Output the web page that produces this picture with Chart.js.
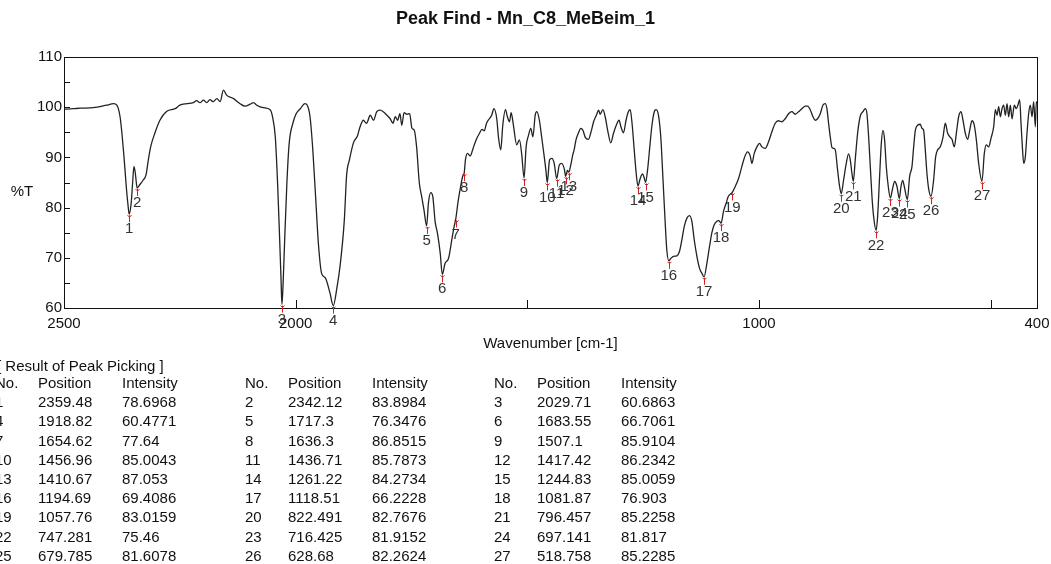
<!DOCTYPE html>
<html>
<head>
<meta charset="utf-8">
<title>Peak Find - Mn_C8_MeBeim_1</title>
<script src="https://cdn.jsdelivr.net/npm/chart.js@4.4.1/dist/chart.umd.min.js"></script>
<style>
  html, body { margin: 0; padding: 0; background: #fff; overflow: hidden; }
  #wrap { position: relative; width: 1051px; height: 564px; }
  #spectrum { position: absolute; left: 0; top: 0; }
  #peak-table { position: absolute; left: 0; top: 0; width: 1051px; height: 564px;
    font: 15px "Liberation Sans", Arial, sans-serif; color: #111; }
  #peak-table span { position: absolute; white-space: nowrap; line-height: 18px; }
</style>
</head>
<body>
<div id="wrap">
  <canvas id="spectrum" width="1051" height="360"></canvas>
  <div id="peak-table"></div>
</div>
<script>
// IR spectrum, wavenumber [cm-1] vs %T
const wavenumber = [
  2500, 2480, 2465, 2437, 2408, 2393, 2386, 2379, 2375, 2370,
  2365, 2361.5, 2359.48, 2355, 2352, 2349, 2346, 2343.5, 2342.12, 2337,
  2329, 2323, 2318, 2313, 2304, 2293, 2278, 2260, 2250, 2235,
  2221, 2214, 2206, 2199, 2192, 2185, 2178, 2170, 2163, 2156,
  2149, 2134, 2120, 2109, 2098, 2091, 2084, 2070, 2055, 2050,
  2044, 2039, 2035, 2031.5, 2029.71, 2027.5, 2025, 2019, 2014, 2006,
  1999, 1990, 1980, 1975, 1969, 1963, 1957, 1951, 1944, 1936,
  1926, 1918.82, 1911, 1904, 1895, 1890, 1884, 1875, 1867, 1861,
  1854, 1847, 1839, 1832, 1825, 1818, 1811, 1803, 1796, 1790,
  1785, 1780, 1775, 1771, 1766, 1760, 1754, 1749, 1744, 1739,
  1733, 1728, 1723, 1717.3, 1713.5, 1708.4, 1704, 1699, 1694, 1688,
  1683.55, 1677.5, 1670, 1663, 1658, 1654.62, 1649, 1644, 1639.3, 1636.3,
  1633.6, 1629, 1623.5, 1616, 1609, 1603.3, 1598, 1593, 1588, 1582,
  1577, 1572, 1566, 1562, 1557.3, 1553, 1547.2, 1543, 1538.5, 1535,
  1530, 1523, 1517, 1512, 1507.1, 1502.6, 1497.5, 1492.5, 1488, 1483,
  1479.5, 1474, 1469, 1464, 1460, 1456.96, 1452, 1447, 1442, 1436.71,
  1431, 1426, 1420, 1417.42, 1413.5, 1410.67, 1406, 1402, 1399, 1395,
  1390, 1384.5, 1380, 1375, 1368, 1363, 1357, 1351, 1346, 1343,
  1337, 1332, 1326, 1320, 1314, 1308, 1302, 1298, 1292.4, 1287,
  1282, 1278, 1274, 1269.3, 1265, 1261.22, 1256.4, 1251.4, 1248, 1244.83,
  1240.5, 1235, 1230.5, 1226, 1222, 1217, 1212, 1207.5, 1202.4, 1199,
  1194.69, 1190, 1184.4, 1177.2, 1171.5, 1166.4, 1161.4, 1155.6, 1149.9, 1144.8,
  1139.8, 1134, 1128.3, 1123.2, 1118.51, 1112.5, 1106.7, 1101.7, 1096.7, 1091,
  1086.6, 1081.87, 1076.5, 1070.8, 1066.4, 1057.76, 1051.3, 1044.1, 1037, 1032,
  1024.7, 1019, 1015.3, 1010.3, 1004.5, 998.8, 993.8, 986.6, 979.4, 972.2,
  965, 957.8, 950.6, 943.4, 936.2, 929, 921.8, 914.6, 907.4, 900.2,
  895.2, 889.4, 883.6, 878.6, 873.6, 867.8, 862.1, 857, 853.4, 849.8,
  846.2, 842.6, 839, 835.4, 830.4, 826, 822.491, 817.4, 811.7, 806.6,
  803, 799.4, 796.457, 792.3, 787.2, 781.5, 775.6, 770.6, 767, 763.4,
  759.8, 756.2, 752.6, 747.281, 744, 739.7, 736, 732.5, 728.9, 725.3,
  721, 716.425, 712.3, 707.3, 702.2, 697.141, 693.6, 690, 686.4, 679.785,
  674.9, 669.8, 666.2, 662.6, 657.6, 651.9, 648.3, 644.7, 641.1, 637.5,
  633.9, 628.68, 623.1, 618.8, 614.4, 608.7, 602.9, 597.9, 592.8, 587.1,
  583.5, 578.4, 574.1, 569.1, 564, 559.7, 554.7, 549.6, 545.3, 540.3,
  535.3, 530.9, 525.9, 518.758, 513.7, 509.4, 504.3, 499.3, 493.5, 489.9,
  486.3, 482.7, 479.1, 475.5, 471.9, 468.3, 464.7, 461.1, 457.5, 453.9,
  448.9, 444.6, 440.3, 437.4, 434.5, 431.6, 428.7, 425.2, 421.6, 418,
  414.4, 410.7, 407.2, 403.6, 401.4, 400
];
const transmittance = [
  99.6, 99.7, 99.8, 99.9, 100.4, 100.7, 100.4, 98.1, 94.8, 89.5,
  83.5, 80.2, 78.6968, 80.9, 84.8, 88.2, 86.8, 84.6, 83.8984, 84.5,
  85.5, 86.5, 89.5, 92.1, 94.8, 97.4, 99.2, 99.7, 100.4, 100.7,
  100.9, 101.3, 100.9, 101.4, 100.9, 101.5, 101.1, 101.7, 101.1, 103.4,
  102.4, 101.7, 100.7, 100.2, 100.6, 100.9, 100.4, 99.9, 99.5, 98.1,
  94.1, 84.8, 74.9, 65.5, 60.6863, 64, 70.3, 84.8, 92.8, 96.8,
  98.7, 99.7, 100.7, 100.4, 98.1, 91.5, 82.2, 72.9, 66.9, 66.0,
  63.0, 60.4771, 64.0, 68.5, 77.5, 86.5, 89.5, 93.0, 94.2, 96.1,
  97.4, 96.8, 98.4, 97.4, 99.1, 99.4, 99.1, 98.4, 97.7, 96.8,
  98.1, 97.4, 98.7, 96.4, 98.9, 98.6, 98.7, 95.8, 95.4, 92.1,
  84.8, 82.2, 79.5, 76.3476, 80.9, 83.0, 82.2, 77.2, 74.9, 70.9,
  66.7061, 68.9, 69.9, 73.6, 76.2, 77.64, 81.5, 84.2, 86.3, 86.8515,
  89.5, 90.8, 90.3, 92.1, 93.8, 94.8, 95.6, 95.3, 96.8, 97.7,
  98.4, 99.7, 97.7, 93.8, 91.5, 96.4, 99.5, 98.1, 97.1, 98.9,
  96.4, 92.5, 93.5, 90.5, 85.9104, 92.1, 94.4, 95.8, 94.1, 98.4,
  99.1, 97.4, 94.0, 90.5, 87.5, 85.0043, 89.5, 89.8, 88.8, 85.7873,
  88.5, 88.8, 87.6, 86.2342, 87.4, 87.053, 88.6, 90.5, 91.5, 93.5,
  94.8, 95.8, 95.4, 94.0, 93.6, 94.9, 97.1, 98.4, 99.4, 98.6,
  99.5, 98.1, 95.1, 92.9, 94.8, 96.4, 97.4, 96.1, 94.9, 97.4,
  99.1, 99.5, 96.8, 91.5, 86.8, 84.2734, 85.8, 86.7, 86.0, 85.0059,
  87.5, 92.8, 96.8, 99.1, 99.5, 98.4, 94.1, 86.2, 76.9, 71.6,
  69.4086, 69.9, 70.3, 70.4, 71.3, 73.6, 76.2, 77.9, 78.4, 77.2,
  73.6, 70.3, 67.9, 66.9, 66.2228, 68.9, 72.3, 75.0, 76.6, 77.3,
  77.4, 76.903, 79.3, 80.9, 82.2, 83.0159, 84.2, 85.8, 88.2, 89.8,
  91.1, 90.3, 88.8, 90.8, 92.1, 92.8, 92.1, 91.8, 93.1, 95.1,
  96.8, 97.3, 97.1, 97.7, 98.7, 99.1, 98.6, 99.1, 99.7, 100.2,
  100.2, 99.5, 98.1, 97.4, 97.7, 98.7, 100.4, 100.7, 99.7, 96.8,
  94.1, 92.0, 91.8, 91.5, 87.5, 84.2, 82.7676, 85.5, 88.8, 90.7,
  89.5, 86.8, 85.2258, 89.5, 94.8, 98.2, 99.1, 99.7, 98.7, 94.1,
  88.2, 82.2, 78.2, 75.46, 78.2, 86.2, 92.8, 95.4, 93.5, 88.2,
  84.2, 81.9152, 83.5, 85.2, 84.2, 81.817, 84.2, 85.4, 84.2, 81.6078,
  86.2, 88.2, 92.1, 95.4, 96.4, 96.6, 95.8, 95.4, 91.5, 86.8,
  83.8, 82.2624, 85.5, 90.1, 91.5, 92.1, 94.0, 96.8, 94.8, 94.0,
  93.6, 92.1, 94.8, 98.1, 99.1, 97.4, 94.8, 93.6, 95.4, 97.3,
  96.4, 93.5, 88.8, 85.2285, 90.8, 92.5, 92.1, 93.8, 96.1, 99.5,
  98.4, 100.1, 98.1, 99.7, 100.4, 98.4, 100.7, 98.1, 100.4, 97.7,
  100.4, 99.7, 100.7, 101.5, 96.8, 92.1, 88.8, 90.1, 94.8, 98.7,
  100.4, 98.1, 101.1, 96.1, 101.1, 100.7
];

// Result of peak picking
const peakPosition = [
  2359.48, 2342.12, 2029.71, 1918.82, 1717.3, 1683.55, 1654.62, 1636.3, 1507.1,
  1456.96, 1436.71, 1417.42, 1410.67, 1261.22, 1244.83, 1194.69, 1118.51, 1081.87,
  1057.76, 822.491, 796.457, 747.281, 716.425, 697.141, 679.785, 628.68, 518.758
];
const peakIntensity = [
  78.6968, 83.8984, 60.6863, 60.4771, 76.3476, 66.7061, 77.64, 86.8515, 85.9104,
  85.0043, 85.7873, 86.2342, 87.053, 84.2734, 85.0059, 69.4086, 66.2228, 76.903,
  83.0159, 82.7676, 85.2258, 75.46, 81.9152, 81.817, 81.6078, 82.2624, 85.2285
];

// axis ticks: marks at every value, numbers only at the labelled ones
const xTicks = [2500, 2000, 1500, 1000, 500, 400];
const xTickLabels = [2500, 2000, 1000, 400];
const yTickStep = 5;
const yTickLabelStep = 10;

const FONT = '"Liberation Sans", Arial, sans-serif';
Chart.defaults.font.family = FONT;
Chart.defaults.color = '#111';

const spectrum = wavenumber.map((w, i) => ({ x: w, y: transmittance[i] }));
const peaks = peakPosition.map((p, i) => ({ x: p, y: peakIntensity[i] }));

// frame, inward ticks, %T label and the numbered peak markers
const decorations = {
  id: 'decorations',
  afterDatasetsDraw(chart) {
    const { ctx, chartArea: a, scales: { x, y } } = chart;
    ctx.save();
    ctx.strokeStyle = '#111';
    ctx.lineWidth = 1;
    ctx.strokeRect(Math.round(a.left) + 0.5, Math.round(a.top) + 0.5,
      Math.round(a.right - a.left), Math.round(a.bottom - a.top));

    ctx.beginPath();
    y.ticks.forEach(t => {
      if (t.value <= y.min || t.value >= y.max) return;
      const py = Math.round(y.getPixelForValue(t.value)) + 0.5;
      ctx.moveTo(a.left, py);
      ctx.lineTo(a.left + 6, py);
    });
    x.ticks.forEach(t => {
      if (t.value <= x.min || t.value >= x.max) return;
      const px = Math.round(x.getPixelForValue(t.value)) + 0.5;
      ctx.moveTo(px, a.bottom);
      ctx.lineTo(px, a.bottom - 8);
    });
    ctx.stroke();

    ctx.font = '15px ' + FONT;
    ctx.fillStyle = '#111';
    ctx.textAlign = 'center';
    ctx.textBaseline = 'middle';
    ctx.fillText('%T', 22, 192);

    const meta = chart.getDatasetMeta(1);
    meta.data.forEach((pt, i) => {
      const px = Math.round(pt.x) + 0.5;
      ctx.strokeStyle = '#d21e1e';
      ctx.beginPath();
      ctx.moveTo(px - 2, pt.y + 1);
      ctx.lineTo(px, pt.y + 3);
      ctx.lineTo(px + 2, pt.y + 1);
      ctx.moveTo(px, pt.y + 1);
      ctx.lineTo(px, pt.y + 8);
      ctx.stroke();
      ctx.fillStyle = '#333';
      ctx.fillText(String(i + 1), pt.x, pt.y + 15);
    });
    ctx.restore();
  }
};

new Chart(document.getElementById('spectrum'), {
  type: 'scatter',
  data: {
    datasets: [
      {
        data: spectrum,
        showLine: true,
        borderColor: '#222',
        borderWidth: 1.3,
        pointRadius: 0,
        cubicInterpolationMode: 'monotone'
      },
      {
        data: peaks,
        showLine: false,
        pointRadius: 0
      }
    ]
  },
  options: {
    responsive: false,
    animation: false,
    devicePixelRatio: 1,
    layout: { padding: 0 },
    plugins: {
      legend: { display: false },
      tooltip: { enabled: false },
      title: {
        display: true,
        text: 'Peak Find - Mn_C8_MeBeim_1',
        color: '#111',
        font: { size: 18, weight: 'bold' },
        padding: { top: 8, bottom: 27.4 }
      }
    },
    scales: {
      x: {
        type: 'linear',
        reverse: true,
        min: 400,
        max: 2500,
        // keep room on the right for the "400" label
        afterFit: s => { s.height = 52; s.paddingLeft = 0; s.paddingRight = 14; },
        afterBuildTicks: s => { s.ticks = xTicks.map(v => ({ value: v })); },
        grid: { display: false, drawTicks: false },
        border: { display: false },
        ticks: {
          autoSkip: false,
          maxRotation: 0,
          padding: 7,
          font: { size: 15 },
          color: '#111',
          callback: v => xTickLabels.includes(v) ? String(v) : ''
        },
        title: {
          display: true,
          text: 'Wavenumber [cm-1]',
          color: '#111',
          font: { size: 15 },
          padding: { top: 0, bottom: 7 }
        }
      },
      y: {
        min: 60,
        max: 110,
        afterFit: s => { s.width = 64; s.paddingTop = 0; s.paddingBottom = 0; },
        grid: { display: false, drawTicks: false },
        border: { display: false },
        ticks: {
          stepSize: yTickStep,
          padding: 2,
          font: { size: 15 },
          color: '#111',
          callback: v => v % yTickLabelStep === 0 ? String(v) : ''
        }
      }
    }
  },
  plugins: [decorations]
});

// peak table, three peaks per row
const table = document.getElementById('peak-table');
function put(text, left, top) {
  const s = document.createElement('span');
  s.textContent = text;
  s.style.left = left + 'px';
  s.style.top = top + 'px';
  table.appendChild(s);
}
put('[ Result of Peak Picking ]', -3, 357);
const groupLeft = [-5, 245, 494];
const colOffset = [0, 43, 127];
const rowTop = 374, rowStep = 19.2;
groupLeft.forEach(g => {
  ['No.', 'Position', 'Intensity'].forEach((h, c) => put(h, g + colOffset[c], rowTop));
});
peakPosition.forEach((p, i) => {
  const row = Math.floor(i / 3) + 1, g = groupLeft[i % 3];
  const top = rowTop + row * rowStep;
  put(String(i + 1), g + colOffset[0], top);
  put(String(p), g + colOffset[1], top);
  put(String(peakIntensity[i]), g + colOffset[2], top);
});
</script>
</body>
</html>
